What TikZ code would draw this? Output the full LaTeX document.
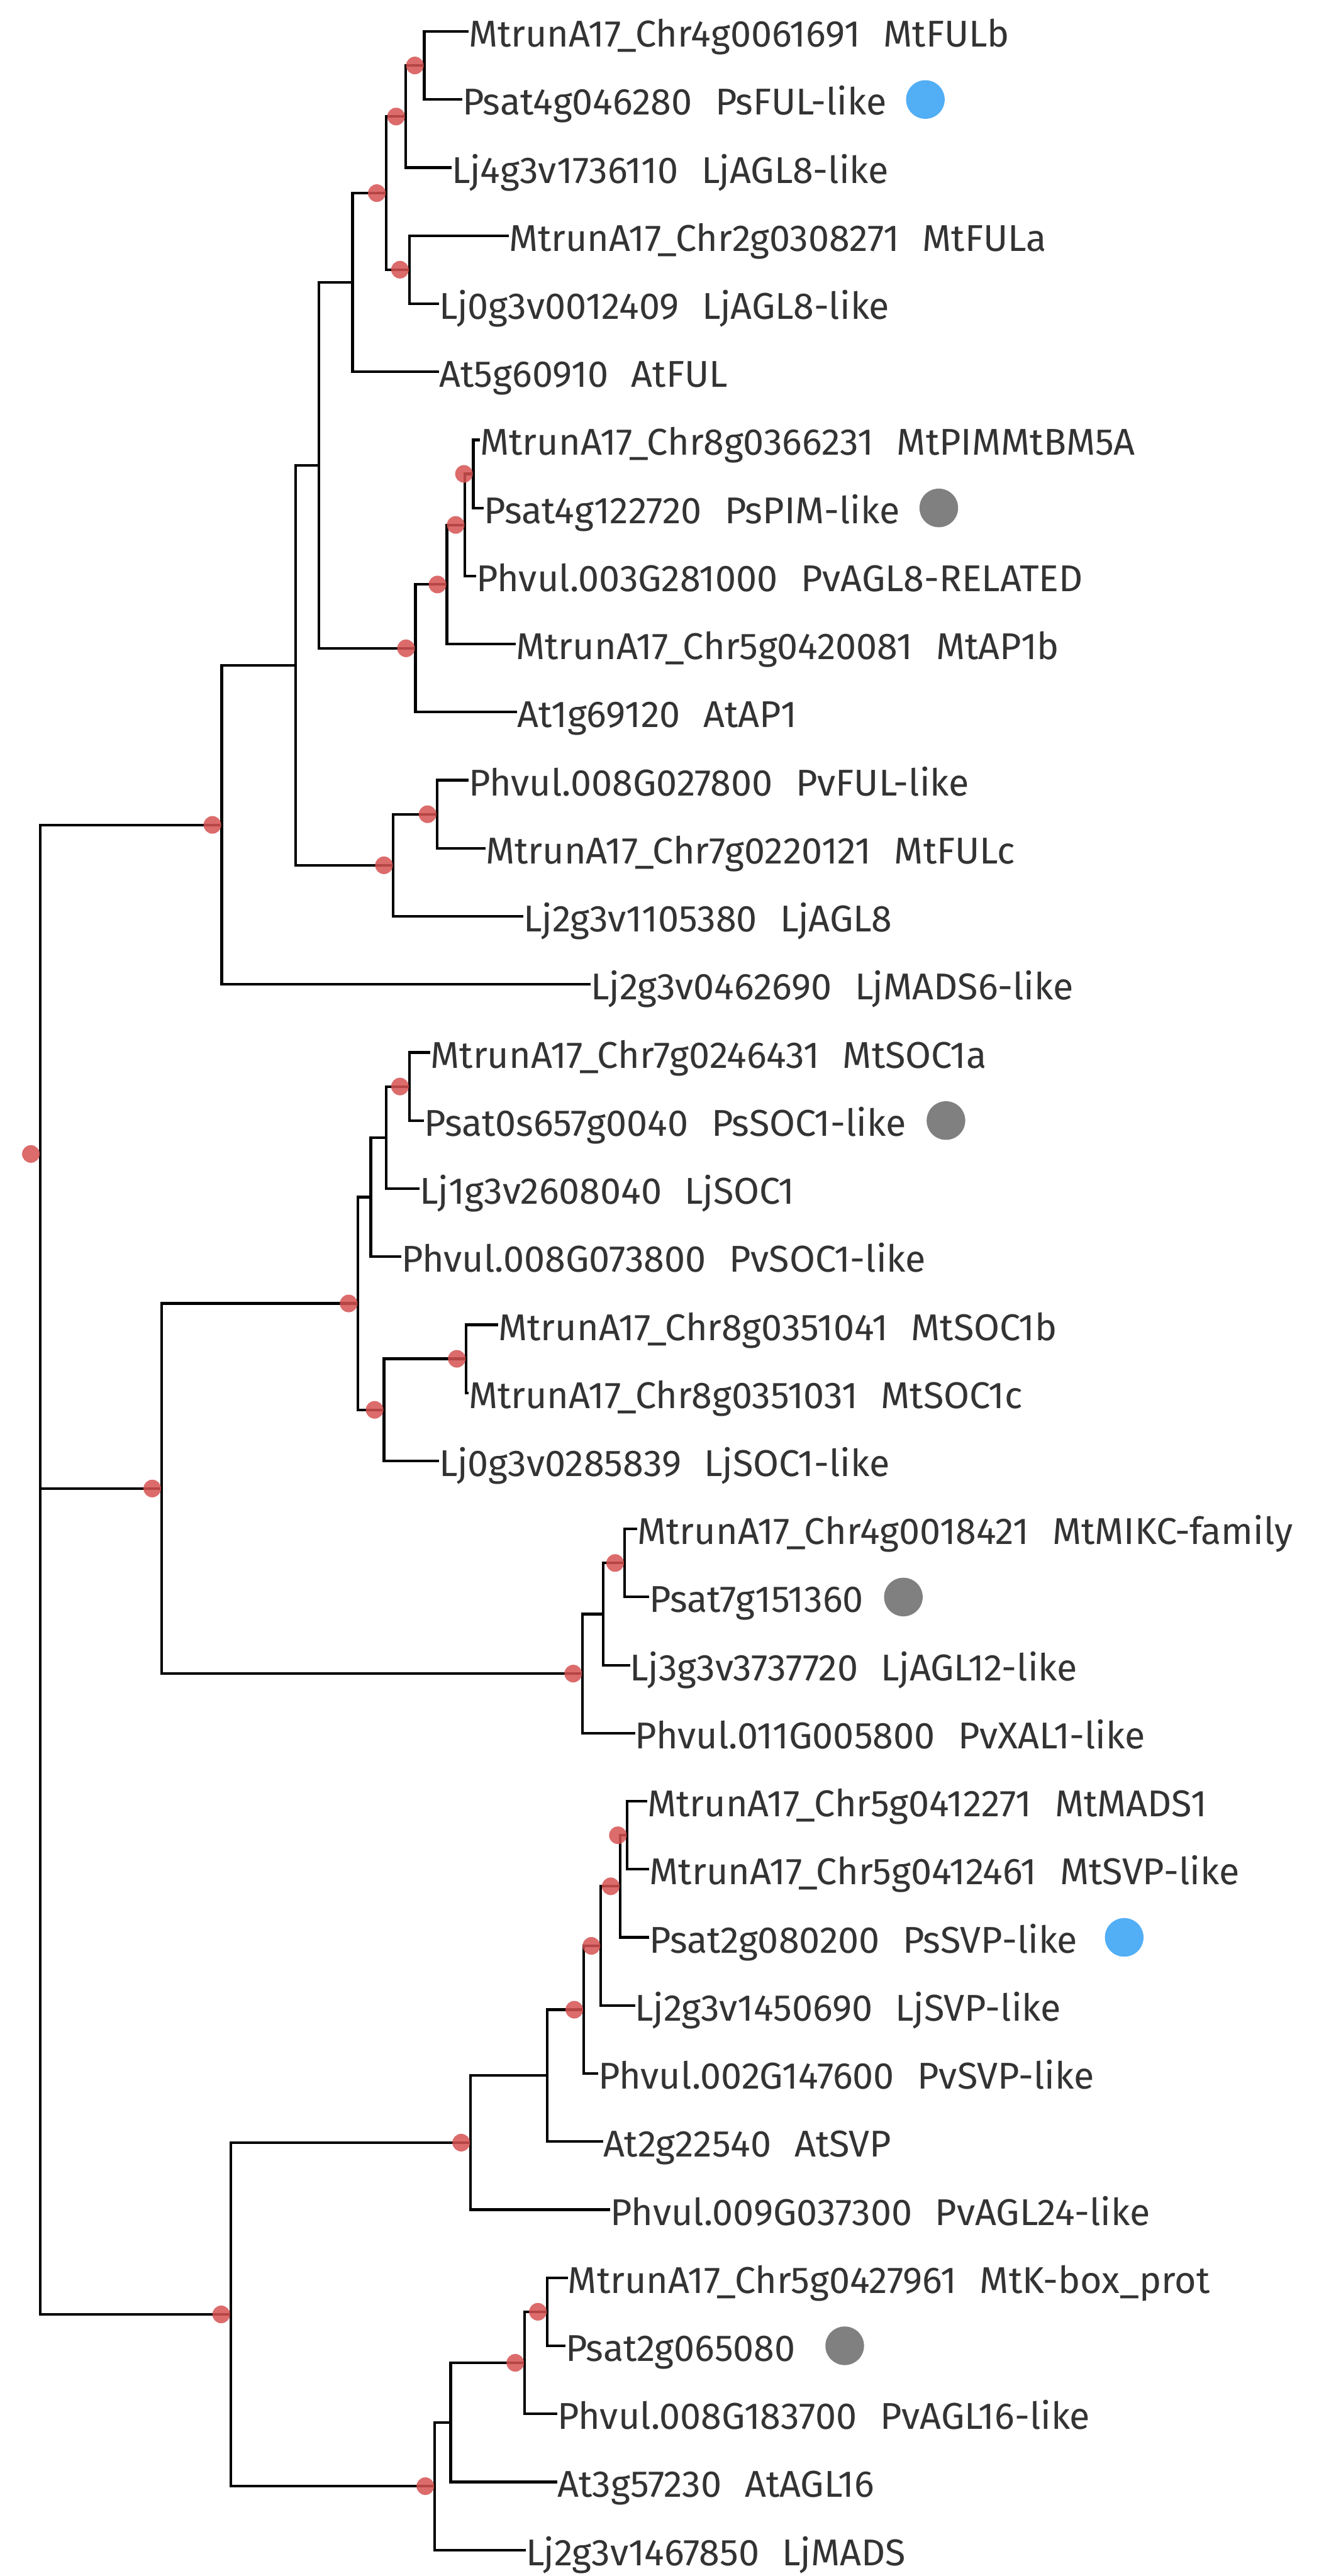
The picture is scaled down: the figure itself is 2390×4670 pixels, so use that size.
\documentclass[tikz,border=0pt]{standalone}
\usepackage{fontspec}
\setmainfont{Fira Sans}
\usetikzlibrary{calc}
\definecolor{txtc}{RGB}{51,51,51}
\definecolor{rdc}{RGB}{214,82,82}
\definecolor{gdc}{RGB}{128,128,128}
\definecolor{bdc}{RGB}{82,174,245}
\newcommand{\gp}{\hspace{0.62em}}
\newcommand{\treeleaf}[4]{\coordinate (#1) at (#2,#3); \node[leaftext] (T#1) at ($(#1)+(0,28)$) {#4};}
\newcommand{\rdot}[1]{\node[reddot] (d#1) at ($(#1)+(-17,0)$) {};}
\newcommand{\edge}[2]{\draw[branch] (#1) |- (#2);}
\begin{document}
\begin{tikzpicture}[x=0.5pt,y=-0.5pt,
  branch/.style={line width=2.4pt, black},
  leaftext/.style={anchor=base west, inner sep=0pt, text=txtc, font=\fontsize{33.8}{37}\selectfont},
  reddot/.style={circle, inner sep=0pt, minimum size=16pt, fill=rdc, fill opacity=0.85},
  greyball/.style={circle, inner sep=0pt, minimum size=35pt, fill=gdc},
  blueball/.style={circle, inner sep=0pt, minimum size=35pt, fill=bdc}]
\useasboundingbox (0,0) rectangle (2390,4670);
\fill[white] (0,0) rectangle (2390,4670);
% ---------- internal nodes ----------
\coordinate (R) at (73,2092);
\coordinate (NTop) at (402,1495.4);
\coordinate (N114) at (536,1206.2);
\coordinate (NFA) at (578,843.7);
\coordinate (N16) at (639,512.0);
\coordinate (N15) at (700,350.1);
\coordinate (N123) at (735,211.25);
\coordinate (N12) at (769,118.7);
\coordinate (N45) at (742,488.9);
\coordinate (N711) at (753,1175.3);
\coordinate (N710) at (810,1059.6);
\coordinate (N79) at (843,951.65);
\coordinate (N78) at (858,859.1);
\coordinate (N1214) at (713,1568.65);
\coordinate (N1213) at (792,1476.1);
\coordinate (NMid) at (293,2698.5);
\coordinate (NSOC) at (649,2363.0);
\coordinate (N1619) at (672,2170.2);
\coordinate (N1618) at (700,2062.25);
\coordinate (N1617) at (742,1969.7);
\coordinate (N2022) at (696,2555.85);
\coordinate (N2021) at (845,2463.3);
\coordinate (N2326) at (1056,3034.0);
\coordinate (N2325) at (1093,2926.05);
\coordinate (N2324) at (1132,2833.5);
\coordinate (NBot) at (418,4195.7);
\coordinate (N2733) at (853,3884.3);
\coordinate (N2732) at (992,3762.85);
\coordinate (N2731) at (1058,3643.3);
\coordinate (N2730) at (1089,3527.6);
\coordinate (N2729) at (1124,3419.65);
\coordinate (N2728) at (1137,3327.1);
\coordinate (N3438) at (788,4507.1);
\coordinate (N3437) at (817,4391.4);
\coordinate (N3436) at (951,4283.45);
\coordinate (N3435) at (992,4190.9);
% ---------- leaves ----------
\treeleaf{l1}{849}{57}{MtrunA17\_Chr4g0061691\gp MtFULb}
\treeleaf{l2}{838}{180.4}{Psat4g046280\gp PsFUL-like}
\treeleaf{l3}{819}{303.8}{Lj4g3v1736110\gp LjAGL8-like}
\treeleaf{l4}{922}{427.2}{MtrunA17\_Chr2g0308271\gp MtFULa}
\treeleaf{l5}{796}{550.6}{Lj0g3v0012409\gp LjAGL8-like}
\treeleaf{l6}{796}{674}{At5g60910\gp AtFUL}
\treeleaf{l7}{870}{797.4}{MtrunA17\_Chr8g0366231\gp MtPIMMtBM5A}
\treeleaf{l8}{877}{920.8}{Psat4g122720\gp PsPIM-like}
\treeleaf{l9}{863}{1044.2}{Phvul.003G281000\gp PvAGL8-RELATED}
\treeleaf{l10}{935}{1167.6}{MtrunA17\_Chr5g0420081\gp MtAP1b}
\treeleaf{l11}{937}{1291}{At1g69120\gp AtAP1}
\treeleaf{l12}{849}{1414.4}{Phvul.008G027800\gp PvFUL-like}
\treeleaf{l13}{880}{1537.8}{MtrunA17\_Chr7g0220121\gp MtFULc}
\treeleaf{l14}{949}{1661.2}{Lj2g3v1105380\gp LjAGL8}
\treeleaf{l15}{1071}{1784.6}{Lj2g3v0462690\gp LjMADS6-like}
\treeleaf{l16}{780}{1908}{MtrunA17\_Chr7g0246431\gp MtSOC1a}
\treeleaf{l17}{769}{2031.4}{Psat0s657g0040\gp PsSOC1-like}
\treeleaf{l18}{761}{2154.8}{Lj1g3v2608040\gp LjSOC1}
\treeleaf{l19}{727}{2278.2}{Phvul.008G073800\gp PvSOC1-like}
\treeleaf{l20}{903}{2401.6}{MtrunA17\_Chr8g0351041\gp MtSOC1b}
\treeleaf{l21}{849}{2525}{MtrunA17\_Chr8g0351031\gp MtSOC1c}
\treeleaf{l22}{796}{2648.4}{Lj0g3v0285839\gp LjSOC1-like}
\treeleaf{l23}{1155}{2771.8}{MtrunA17\_Chr4g0018421\gp MtMIKC-family}
\treeleaf{l24}{1177}{2895.2}{Psat7g151360}
\treeleaf{l25}{1142}{3018.6}{Lj3g3v3737720\gp LjAGL12-like}
\treeleaf{l26}{1151}{3142}{Phvul.011G005800\gp PvXAL1-like}
\treeleaf{l27}{1173}{3265.4}{MtrunA17\_Chr5g0412271\gp MtMADS1}
\treeleaf{l28}{1177}{3388.8}{MtrunA17\_Chr5g0412461\gp MtSVP-like}
\treeleaf{l29}{1177}{3512.2}{Psat2g080200\gp PsSVP-like}
\treeleaf{l30}{1151}{3635.6}{Lj2g3v1450690\gp LjSVP-like}
\treeleaf{l31}{1084}{3759}{Phvul.002G147600\gp PvSVP-like}
\treeleaf{l32}{1093}{3882.4}{At2g22540\gp AtSVP}
\treeleaf{l33}{1106}{4005.8}{Phvul.009G037300\gp PvAGL24-like}
\treeleaf{l34}{1029}{4129.2}{MtrunA17\_Chr5g0427961\gp MtK-box\_prot}
\treeleaf{l35}{1025}{4252.6}{Psat2g065080}
\treeleaf{l36}{1010}{4376}{Phvul.008G183700\gp PvAGL16-like}
\treeleaf{l37}{1010}{4499.4}{At3g57230\gp AtAGL16}
\treeleaf{l38}{953}{4622.8}{Lj2g3v1467850\gp LjMADS}
% ---------- branches ----------
\edge{R}{NTop}\edge{R}{NMid}\edge{R}{NBot}
\edge{NTop}{N114}\edge{NTop}{l15}
\edge{N114}{NFA}\edge{N114}{N1214}
\edge{NFA}{N16}\edge{NFA}{N711}
\edge{N16}{N15}\edge{N16}{l6}
\edge{N15}{N123}\edge{N15}{N45}
\edge{N123}{N12}\edge{N123}{l3}
\edge{N12}{l1}\edge{N12}{l2}
\edge{N45}{l4}\edge{N45}{l5}
\edge{N711}{N710}\edge{N711}{l11}
\edge{N710}{N79}\edge{N710}{l10}
\edge{N79}{N78}\edge{N79}{l9}
\edge{N78}{l7}\edge{N78}{l8}
\edge{N1214}{N1213}\edge{N1214}{l14}
\edge{N1213}{l12}\edge{N1213}{l13}
\edge{NMid}{NSOC}\edge{NMid}{N2326}
\edge{NSOC}{N1619}\edge{NSOC}{N2022}
\edge{N1619}{N1618}\edge{N1619}{l19}
\edge{N1618}{N1617}\edge{N1618}{l18}
\edge{N1617}{l16}\edge{N1617}{l17}
\edge{N2022}{N2021}\edge{N2022}{l22}
\edge{N2021}{l20}\edge{N2021}{l21}
\edge{N2326}{N2325}\edge{N2326}{l26}
\edge{N2325}{N2324}\edge{N2325}{l25}
\edge{N2324}{l23}\edge{N2324}{l24}
\edge{NBot}{N2733}\edge{NBot}{N3438}
\edge{N2733}{N2732}\edge{N2733}{l33}
\edge{N2732}{N2731}\edge{N2732}{l32}
\edge{N2731}{N2730}\edge{N2731}{l31}
\edge{N2730}{N2729}\edge{N2730}{l30}
\edge{N2729}{N2728}\edge{N2729}{l29}
\edge{N2728}{l27}\edge{N2728}{l28}
\edge{N3438}{N3437}\edge{N3438}{l38}
\edge{N3437}{N3436}\edge{N3437}{l37}
\edge{N3436}{N3435}\edge{N3436}{l36}
\edge{N3435}{l34}\edge{N3435}{l35}
% ---------- support dots ----------
\rdot{R}\rdot{NTop}\rdot{N15}\rdot{N123}\rdot{N12}\rdot{N45}
\rdot{N711}\rdot{N710}\rdot{N79}\rdot{N78}\rdot{N1214}\rdot{N1213}
\rdot{NMid}\rdot{NSOC}\rdot{N2022}\rdot{N2021}\rdot{N1617}\rdot{N2326}\rdot{N2324}
\rdot{NBot}\rdot{N2733}\rdot{N2731}\rdot{N2730}\rdot{N2729}\rdot{N2728}
\rdot{N3438}\rdot{N3436}\rdot{N3435}
% ---------- markers (placed after the label text) ----------
\node[blueball] (m2) at ($(Tl2.east |- l2)+(70,0)$) {};
\node[greyball] (m8) at ($(Tl8.east |- l8)+(70,0)$) {};
\node[greyball] (m17) at ($(Tl17.east |- l17)+(72,0)$) {};
\node[greyball] (m24) at ($(Tl24.east |- l24)+(72,0)$) {};
\node[blueball] (m29) at ($(Tl29.east |- l29)+(84,0)$) {};
\node[greyball] (m35) at ($(Tl35.east |- l35)+(89,0)$) {};
\end{tikzpicture}
\end{document}
